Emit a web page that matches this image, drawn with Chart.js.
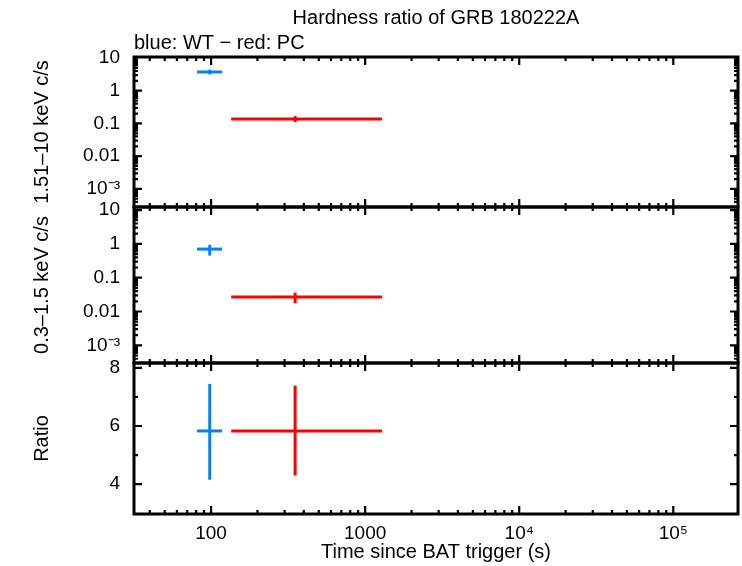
<!DOCTYPE html>
<html>
<head>
<meta charset="utf-8">
<script src="https://cdn.jsdelivr.net/npm/chart.js@4.4.1/dist/chart.umd.min.js"></script>
<style>
  body { margin: 0; background: #fff; }
  #wrap { position: relative; width: 742px; height: 566px; overflow: hidden; }
  canvas { position: absolute; left: 0; }
</style>
</head>
<body>
<div id="wrap">
  <canvas id="hard" width="742" height="240" style="top:0px"></canvas>
  <canvas id="soft" width="742" height="230" style="top:170px"></canvas>
  <canvas id="ratio" width="742" height="236" style="top:330px"></canvas>
</div>
<script>
// time bins (s)
const wtTime = [98], wtTimeLo = [81], wtTimeHi = [118];
const pcTime = [351], pcTimeLo = [135], pcTimeHi = [1288];

// 1.5-10 keV rate
const hardWT = [3.73], hardWTLo = [3.15], hardWTHi = [4.39];
const hardPC = [0.136], hardPCLo = [0.11], hardPCHi = [0.167];

// 0.3-1.5 keV rate
const softWT = [0.70], softWTLo = [0.45], softWTHi = [0.94];
const softPC = [0.027], softPCLo = [0.0176], softPCHi = [0.036];

// hardness ratio
const ratioWT = [5.83], ratioWTLo = [4.15], ratioWTHi = [7.45];
const ratioPC = [5.83], ratioPCLo = [4.3], ratioPCHi = [7.39];

// tick labels
const xTicks = [100, 1000, 1e4, 1e5];
const xTickLabels = ['100', '1000', '10\u2074', '10\u2075'];
const rateTicks = [0.001, 0.01, 0.1, 1, 10];
const rateTickLabels = ['10\u207B\u00B3', '0.01', '0.1', '1', '10'];
const ratioTicks = [4, 6, 8];
const ratioTickLabels = ['4', '6', '8'];

const BLUE = '#0a7ff2';
const RED = '#ff0000';
const FAMILY = '"Liberation Sans", Arial, sans-serif';
const TICKFONT = { family: FAMILY, size: 19 };
const FONT = { family: FAMILY, size: 20, weight: 'normal' };

function logMinors(lo, hi) {
    let out = [];
    for (let d = lo; d < hi; d *= 10) {
        for (let m = 2; m <= 9; m++) out.push(+(d * m).toPrecision(3));
    }
    return out;
}

// error bars as short line segments
function errBars(t, tLo, tHi, v, vLo, vHi, color) {
    let sets = [];
    for (let i = 0; i < t.length; i++) {
        sets.push({ data: [{ x: tLo[i], y: v[i] }, { x: tHi[i], y: v[i] }], borderColor: color });
        sets.push({ data: [{ x: t[i], y: vLo[i] }, { x: t[i], y: vHi[i] }], borderColor: color });
    }
    return sets;
}

const frameTicks = {
    id: 'frameTicks',
    afterDraw(chart, args, o) {
        const { ctx, chartArea: a, scales } = chart;
        ctx.save();
        ctx.strokeStyle = '#000';
        ctx.lineWidth = 2.2;
        ctx.beginPath();
        const xt = (v, len) => {
            const p = scales.x.getPixelForValue(v);
            if (p < a.left + 1 || p > a.right - 1) return;
            ctx.moveTo(p, a.bottom); ctx.lineTo(p, a.bottom - len);
            ctx.moveTo(p, a.top); ctx.lineTo(p, a.top + len);
        };
        const yt = (v, len) => {
            const p = scales.y.getPixelForValue(v);
            if (p < a.top + 1 || p > a.bottom - 1) return;
            ctx.moveTo(a.left, p); ctx.lineTo(a.left + len, p);
            ctx.moveTo(a.right, p); ctx.lineTo(a.right - len, p);
        };
        xTicks.forEach(v => xt(v, 8));
        logMinors(10, 1e5).forEach(v => xt(v, 4));
        o.yMajor.forEach(v => yt(v, 8));
        o.yMinor.forEach(v => yt(v, 4));
        ctx.stroke();
        ctx.lineWidth = 3;
        ctx.strokeRect(a.left, a.top, a.width, a.height);
        ctx.restore();
    }
};

function makeChart(id, cfg) {
    const xAxis = {
        type: 'logarithmic', min: 31.6, max: 2.63e5,
        display: cfg.showX,
        grid: { display: false, drawTicks: false },
        border: { display: false },
        afterBuildTicks: s => { s.ticks = xTicks.map(v => ({ value: v })); },
        afterFit: s => { s.height = cfg.showX ? 52 : 0; },
        ticks: {
            color: '#000', font: TICKFONT, padding: 8, autoSkip: false, maxRotation: 0,
            callback: v => xTickLabels[xTicks.indexOf(v)]
        },
        title: { display: true, text: 'Time since BAT trigger (s)', color: '#000', font: FONT, padding: { top: 0, bottom: 2 } }
    };
    const yAxis = {
        type: cfg.yType, min: cfg.yMin, max: cfg.yMax,
        grid: { display: false, drawTicks: false },
        border: { display: false },
        afterBuildTicks: s => { s.ticks = cfg.yTicks.map(v => ({ value: v })); },
        afterFit: s => { s.width = 134; },
        ticks: {
            color: '#000', font: TICKFONT, padding: 14, autoSkip: false,
            callback: v => cfg.yLabels[cfg.yTicks.indexOf(v)]
        },
        title: { display: true, text: cfg.yTitle, color: '#000', font: FONT, padding: { top: 30, bottom: 0 } }
    };
    return new Chart(document.getElementById(id), {
        type: 'scatter',
        data: { datasets: cfg.datasets },
        options: {
            responsive: false,
            animation: false,
            devicePixelRatio: 1,
            showLine: true,
            layout: { padding: cfg.padding },
            elements: { point: { radius: 0 }, line: { borderWidth: 3 } },
            scales: { x: xAxis, y: yAxis },
            plugins: {
                legend: { display: false },
                tooltip: { enabled: false },
                title: cfg.title || { display: false },
                subtitle: cfg.subtitle || { display: false },
                frameTicks: { yMajor: cfg.yTicks, yMinor: cfg.yMinor }
            }
        },
        plugins: [frameTicks]
    });
}

makeChart('hard', {
    showX: false, yType: 'logarithmic', yMin: 2.8e-4, yMax: 10.7,
    yTicks: rateTicks, yLabels: rateTickLabels, yMinor: logMinors(1e-4, 10),
    yTitle: '1.51\u201310 keV c/s',
    padding: { left: 0, right: 4, top: 0, bottom: 33 },
    title: { display: true, text: 'Hardness ratio of GRB 180222A', fullSize: false, color: '#000',
             font: FONT, padding: { top: 6, bottom: 1 } },
    subtitle: { display: true, text: 'blue: WT \u2212 red: PC', fullSize: false, align: 'start', color: '#000',
                font: FONT, padding: { top: 0, bottom: 2 } },
    datasets: [
        ...errBars(wtTime, wtTimeLo, wtTimeHi, hardWT, hardWTLo, hardWTHi, BLUE),
        ...errBars(pcTime, pcTimeLo, pcTimeHi, hardPC, hardPCLo, hardPCHi, RED)
    ]
});

makeChart('soft', {
    showX: false, yType: 'logarithmic', yMin: 3.2e-4, yMax: 12.3,
    yTicks: rateTicks, yLabels: rateTickLabels, yMinor: logMinors(1e-4, 10),
    yTitle: '0.3\u20131.5 keV c/s',
    padding: { left: 0, right: 4, top: 37, bottom: 37 },
    datasets: [
        ...errBars(wtTime, wtTimeLo, wtTimeHi, softWT, softWTLo, softWTHi, BLUE),
        ...errBars(pcTime, pcTimeLo, pcTimeHi, softPC, softPCLo, softPCHi, RED)
    ]
});

makeChart('ratio', {
    showX: true, yType: 'linear', yMin: 2.97, yMax: 8.17,
    yTicks: ratioTicks, yLabels: ratioTickLabels, yMinor: [3, 5, 7],
    yTitle: 'Ratio',
    padding: { left: 0, right: 4, top: 33, bottom: 0 },
    datasets: [
        ...errBars(wtTime, wtTimeLo, wtTimeHi, ratioWT, ratioWTLo, ratioWTHi, BLUE),
        ...errBars(pcTime, pcTimeLo, pcTimeHi, ratioPC, ratioPCLo, ratioPCHi, RED)
    ]
});
</script>
</body>
</html>
